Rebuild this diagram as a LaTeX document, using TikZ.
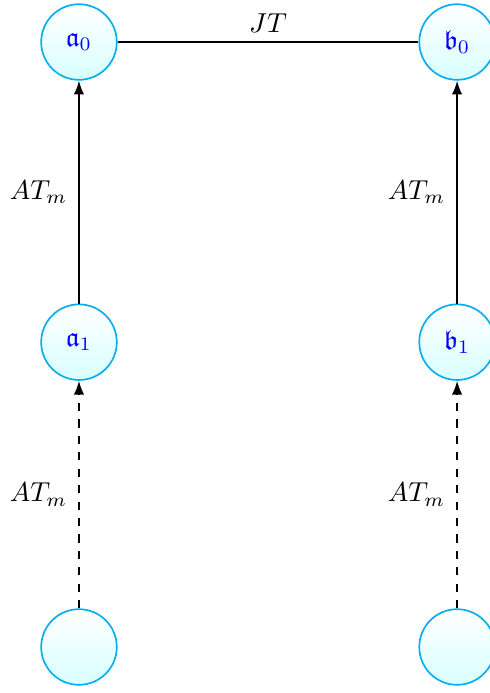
\documentclass[tikz,border=0pt]{standalone}
\usepackage{amsmath,amssymb}
\usepackage{tikz}
\usetikzlibrary{arrows.meta,positioning,calc}
\definecolor{ringcyan}{RGB}{0,174,239}

\begin{document}
\begin{tikzpicture}[
  ideal/.style={circle, draw=ringcyan, semithick, minimum size=0.97cm, inner sep=0pt, top color=white, bottom color=cyan!15, text=blue},
  lbl/.style={midway, left, inner sep=4pt}
]
\useasboundingbox (-1.013,0.539) rectangle (5.26,-8.35);

% left column
\node[ideal] (a0) at (0,0) {$\mathfrak{a}_0$};
\node[ideal] (a1) at (0,-3.85) {$\mathfrak{a}_1$};
\node[ideal] (a2) at (0,-7.76) {};

% right column
\node[ideal] (b0) at (4.85,0) {$\mathfrak{b}_0$};
\node[ideal] (b1) at (4.85,-3.85) {$\mathfrak{b}_1$};
\node[ideal] (b2) at (4.85,-7.76) {};

% arrows
\draw[semithick] (a0) -- (b0) node[midway, above] {$JT$};
\draw[semithick, -{Latex[length=5pt]}] (a1) -- (a0) node[lbl] {$AT_m$};
\draw[semithick, -{Latex[length=5pt]}, dashed] (a2) -- (a1) node[lbl] {$AT_m$};
\draw[semithick, -{Latex[length=5pt]}] (b1) -- (b0) node[lbl] {$AT_m$};
\draw[semithick, -{Latex[length=5pt]}, dashed] (b2) -- (b1) node[lbl] {$AT_m$};

\end{tikzpicture}
\end{document}
